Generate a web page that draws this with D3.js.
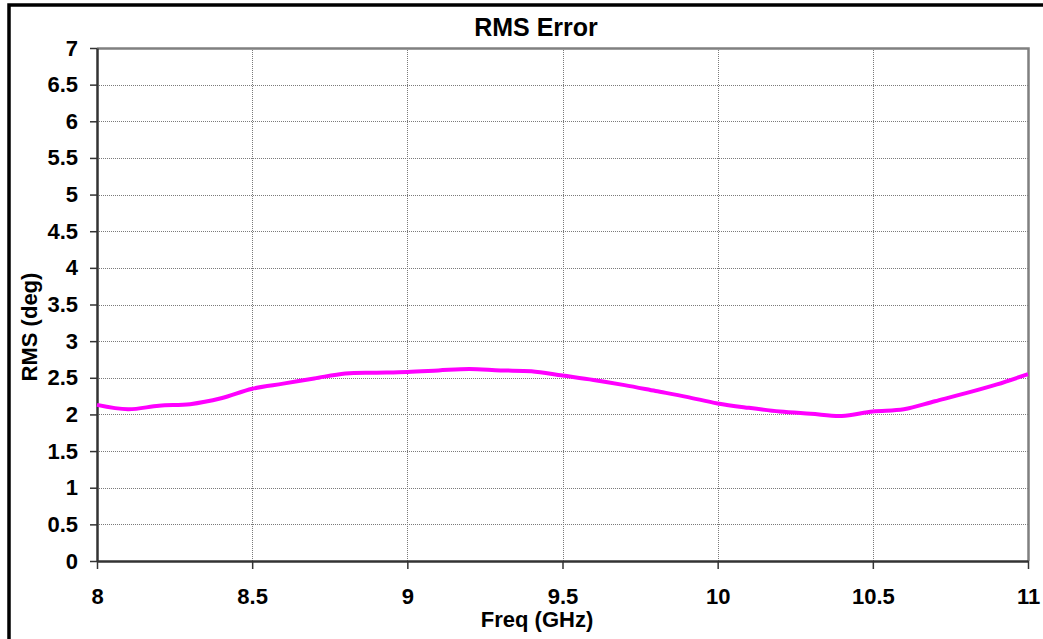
<!DOCTYPE html>
<html>
<head>
<meta charset="utf-8">
<script src="https://cdn.jsdelivr.net/npm/d3@7"></script>
<style>
  body { margin: 0; background: #fff; }
  svg { display: block; font-family: "Liberation Sans", Arial, sans-serif; font-weight: bold; }
</style>
</head>
<body>
<div id="chart"></div>
<script>
// Frequency (GHz) and RMS error (deg)
var freq = [8.0, 8.1, 8.2, 8.3, 8.4, 8.5, 8.6, 8.7, 8.8, 8.9, 9.0, 9.1, 9.2, 9.3, 9.4, 9.5,
            9.6, 9.7, 9.8, 9.9, 10.0, 10.1, 10.2, 10.3, 10.4, 10.5, 10.6, 10.7, 10.8, 10.9, 11.0];
var rms = [2.13, 2.07, 2.12, 2.14, 2.22, 2.35, 2.42, 2.49, 2.56, 2.57, 2.58, 2.60, 2.62, 2.60, 2.59, 2.53,
           2.47, 2.40, 2.32, 2.24, 2.15, 2.09, 2.04, 2.01, 1.98, 2.04, 2.07, 2.18, 2.29, 2.41, 2.55];
var xTicks = [8, 8.5, 9, 9.5, 10, 10.5, 11];
var yTicks = [0, 0.5, 1, 1.5, 2, 2.5, 3, 3.5, 4, 4.5, 5, 5.5, 6, 6.5, 7];

var width = 1043;
var height = 639;
var plot = { left: 97, top: 48, right: 1028, bottom: 561 };

var svg = d3.select("#chart")
    .append("svg")
    .attr("width", width)
    .attr("height", height);

// outer chart border (runs off the right and bottom edges)
svg.append("rect")
    .attr("x", 9).attr("y", 5)
    .attr("width", 1120).attr("height", 700)
    .attr("fill", "#fff")
    .attr("stroke", "#000")
    .attr("stroke-width", 3.5);

var x = d3.scaleLinear().domain([8, 11]).range([plot.left, plot.right]);
var y = d3.scaleLinear().domain([0, 7]).range([plot.bottom, plot.top]);

// grid lines
svg.append("g")
    .selectAll("line")
    .data(yTicks.slice(1, -1))
    .join("line")
    .attr("x1", plot.left).attr("x2", plot.right)
    .attr("y1", function (d) { return Math.round(y(d)) + 0.5; })
    .attr("y2", function (d) { return Math.round(y(d)) + 0.5; })
    .attr("stroke", "#7a7a7a")
    .attr("stroke-dasharray", "1,1");

svg.append("g")
    .selectAll("line")
    .data(xTicks.slice(1, -1))
    .join("line")
    .attr("y1", plot.top).attr("y2", plot.bottom)
    .attr("x1", function (d) { return Math.round(x(d)) + 0.5; })
    .attr("x2", function (d) { return Math.round(x(d)) + 0.5; })
    .attr("stroke", "#7a7a7a")
    .attr("stroke-dasharray", "1,1");

// plot area frame (top and right in gray)
svg.append("path")
    .attr("d", "M" + plot.left + "," + (plot.top + 0.5) + "H" + (plot.right + 0.5) + "V" + plot.bottom)
    .attr("fill", "none")
    .attr("stroke", "#808080")
    .attr("stroke-width", 2.5);

// axes
var yAxis = svg.append("g")
    .attr("transform", "translate(" + plot.left + ",0)")
    .call(d3.axisLeft(y).tickValues(yTicks).tickSize(7).tickPadding(12).tickFormat(d3.format("")).tickSizeOuter(0));

var xAxis = svg.append("g")
    .attr("transform", "translate(0," + plot.bottom + ")")
    .call(d3.axisBottom(x).tickValues(xTicks).tickSize(8).tickPadding(19).tickFormat(d3.format("")).tickSizeOuter(0));

[yAxis, xAxis].forEach(function (axis) {
    axis.select(".domain").attr("stroke", "#333").attr("stroke-width", 2.5);
    axis.selectAll(".tick line").attr("stroke", "#333").attr("stroke-width", 1.5);
    axis.selectAll("text")
        .attr("fill", "#000")
        .style("font-size", "22px")
        .style("font-weight", "bold")
        .style("font-family", "'Liberation Sans', Arial, sans-serif");
});

// the series
var line = d3.line()
    .x(function (d, i) { return x(freq[i]); })
    .y(function (d) { return y(d); })
    .curve(d3.curveCatmullRom);

svg.append("path")
    .attr("d", line(rms))
    .attr("fill", "none")
    .attr("stroke", "#FF00FF")
    .attr("stroke-width", 4)
    .attr("stroke-linejoin", "round");

// titles
svg.append("text")
    .attr("x", 536).attr("y", 36)
    .attr("text-anchor", "middle")
    .style("font-size", "25px")
    .text("RMS Error");

svg.append("text")
    .attr("x", 537).attr("y", 627)
    .attr("text-anchor", "middle")
    .style("font-size", "22px")
    .text("Freq (GHz)");

svg.append("text")
    .attr("transform", "translate(37,327) rotate(-90)")
    .attr("text-anchor", "middle")
    .style("font-size", "22px")
    .text("RMS (deg)");
</script>
</body>
</html>
